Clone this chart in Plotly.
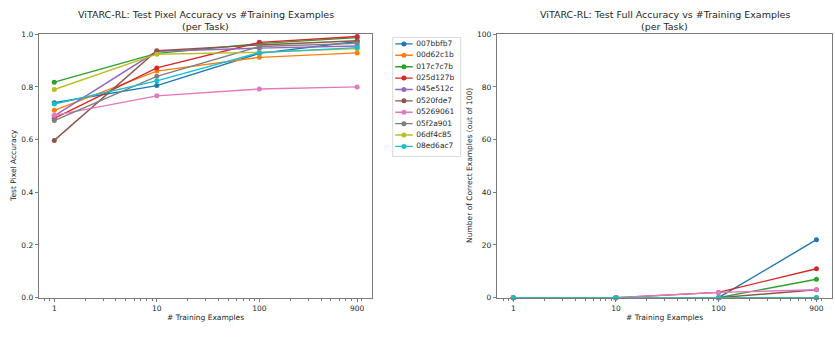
import plotly.graph_objects as go

# ---------------- data ----------------
train_sizes = [1, 10, 100, 900]
tasks = ["007bbfb7", "00d62c1b", "017c7c7b", "025d127b", "045e512c",
         "0520fde7", "05269061", "05f2a901", "06df4c85", "08ed6ac7"]
colors = ["#1f77b4", "#ff7f0e", "#2ca02c", "#d62728", "#9467bd",
          "#8c564b", "#e377c2", "#7f7f7f", "#bcbd22", "#17becf"]

pix_007bbfb7 = [0.740, 0.805, 0.927, 0.972]
pix_00d62c1b = [0.711, 0.860, 0.912, 0.929]
pix_017c7c7b = [0.818, 0.927, 0.964, 0.987]
pix_025d127b = [0.680, 0.872, 0.969, 0.991]
pix_045e512c = [0.690, 0.935, 0.947, 0.955]
pix_0520fde7 = [0.597, 0.937, 0.959, 0.975]
pix_05269061 = [0.692, 0.766, 0.792, 0.800]
pix_05f2a901 = [0.672, 0.840, 0.953, 0.965]
pix_06df4c85 = [0.790, 0.924, 0.931, 0.945]
pix_08ed6ac7 = [0.735, 0.823, 0.930, 0.949]

full_007bbfb7 = [0, 0, 0, 22]
full_00d62c1b = [0, 0, 0, 0]
full_017c7c7b = [0, 0, 0, 7]
full_025d127b = [0, 0, 2, 11]
full_045e512c = [0, 0, 0, 0]
full_0520fde7 = [0, 0, 0, 3]
full_05269061 = [0, 0, 2, 3]
full_05f2a901 = [0, 0, 0, 0]
full_06df4c85 = [0, 0, 0, 0]
full_08ed6ac7 = [0, 0, 0, 0]

pixel_acc = [pix_007bbfb7, pix_00d62c1b, pix_017c7c7b, pix_025d127b, pix_045e512c,
             pix_0520fde7, pix_05269061, pix_05f2a901, pix_06df4c85, pix_08ed6ac7]
full_acc = [full_007bbfb7, full_00d62c1b, full_017c7c7b, full_025d127b, full_045e512c,
            full_0520fde7, full_05269061, full_05f2a901, full_06df4c85, full_08ed6ac7]

x_ticks = [1, 10, 100, 900]
x_tick_labels = ["1", "10", "100", "900"]
left_y_ticks = [0.0, 0.2, 0.4, 0.6, 0.8, 1.0]
right_y_ticks = [0, 20, 40, 60, 80, 100]

# ---------------- layout helpers ----------------
W, H = 835, 339
FONT = "DejaVu Sans"
TXT = "#262626"
SPINE = "#7a7a7a"

def px_x(p):
    return p / W

def px_y(p):
    return 1 - p / H

minor_vals = ([0.8, 0.9] + [i for i in range(2, 10)] + [i * 10 for i in range(2, 10)]
              + [i * 100 for i in range(2, 9)] + [1000])

fig = go.Figure()

for name, col, ys in zip(tasks, colors, pixel_acc):
    fig.add_trace(go.Scatter(x=train_sizes, y=ys, mode="lines+markers", name=name,
                             line=dict(color=col, width=1.4),
                             marker=dict(color=col, size=5),
                             xaxis="x", yaxis="y", showlegend=False, cliponaxis=False))

for name, col, ys in zip(tasks, colors, full_acc):
    fig.add_trace(go.Scatter(x=train_sizes, y=ys, mode="lines+markers", name=name,
                             line=dict(color=col, width=1.4),
                             marker=dict(color=col, size=5),
                             xaxis="x2", yaxis="y2", showlegend=False, cliponaxis=False))

# custom legend drawn on a hidden axis
for i, (name, col) in enumerate(zip(tasks, colors)):
    fig.add_trace(go.Scatter(x=[2.5, 20], y=[i, i], mode="lines",
                             line=dict(color=col, width=1.4),
                             xaxis="x3", yaxis="y3", showlegend=False, hoverinfo="skip"))
    fig.add_trace(go.Scatter(x=[11.2], y=[i], mode="markers",
                             marker=dict(color=col, size=5),
                             xaxis="x3", yaxis="y3", showlegend=False, hoverinfo="skip"))
    fig.add_trace(go.Scatter(x=[23.5], y=[i], mode="text", text=[name],
                             textposition="middle right",
                             textfont=dict(family=FONT, size=7.5, color=TXT),
                             xaxis="x3", yaxis="y3", showlegend=False, hoverinfo="skip"))

common_x = dict(type="log", tickvals=x_ticks, ticktext=x_tick_labels,
                ticks="outside", ticklen=3.5, tickwidth=0.8, tickcolor=SPINE,
                showline=True, linecolor=SPINE, linewidth=1, mirror=True,
                showgrid=False, zeroline=False,
                tickfont=dict(family=FONT, size=7.5, color=TXT),
                minor=dict(tickvals=minor_vals, ticks="outside", ticklen=2,
                           tickwidth=0.6, tickcolor=SPINE, showgrid=False))
common_y = dict(ticks="outside", ticklen=3.5, tickwidth=0.8, tickcolor=SPINE,
                showline=True, linecolor=SPINE, linewidth=1, mirror=True,
                showgrid=False, zeroline=False,
                tickfont=dict(family=FONT, size=7.5, color=TXT))

fig.update_layout(
    width=W, height=H,
    margin=dict(l=0, r=0, t=0, b=0),
    paper_bgcolor="white", plot_bgcolor="white",
    font=dict(family=FONT, size=8, color=TXT),
    xaxis=dict(domain=[px_x(39.3), px_x(372.3)], range=[-0.146, 3.102], anchor="y",
               **common_x),
    yaxis=dict(domain=[px_y(301.7), px_y(31)], range=[0, 1], anchor="x",
               tickvals=left_y_ticks, tickformat=".1f", **common_y),
    xaxis2=dict(domain=[px_x(497.3), px_x(831.7)], range=[-0.156, 3.103], anchor="y2",
                **common_x),
    yaxis2=dict(domain=[px_y(301.7), px_y(31)], range=[0, 100], anchor="x2",
                tickvals=right_y_ticks, **common_y),
    xaxis3=dict(domain=[px_x(392.7), px_x(460.7)], range=[0, 68], visible=False,
                anchor="y3", fixedrange=True),
    yaxis3=dict(domain=[px_y(156.7), px_y(34.3)], range=[9.889, -0.573], visible=False,
                anchor="x3", fixedrange=True),
)

# legend frame
fig.add_shape(type="rect", xref="paper", yref="paper",
              x0=px_x(392.7), x1=px_x(460.7), y0=px_y(156.7), y1=px_y(34.3),
              line=dict(color="#d0d0d0", width=0.8), fillcolor="rgba(255,255,255,0)",
              layer="below")

def ann(text, x, y, size=8, angle=0):
    fig.add_annotation(text=text, xref="paper", yref="paper", x=x, y=y,
                       xanchor="center", yanchor="middle", showarrow=False,
                       textangle=angle, font=dict(family=FONT, size=size, color=TXT))

# titles
ann("ViTARC-RL: Test Pixel Accuracy vs #Training Examples", px_x(205.8), px_y(11), size=9.5)
ann("(per Task)", px_x(205.8), px_y(23.3), size=9.5)
ann("ViTARC-RL: Test Full Accuracy vs #Training Examples", px_x(664.5), px_y(11), size=9.5)
ann("(per Task)", px_x(664.5), px_y(23.3), size=9.5)

# axis labels
ann("# Training Examples", px_x(205.8), px_y(321.7), size=7.5)
ann("# Training Examples", px_x(664.5), px_y(321.7), size=7.5)
ann("Test Pixel Accuracy", px_x(14), px_y(166.3), size=7.5, angle=-90)
ann("Number of Correct Examples (out of 100)", px_x(470), px_y(166.3), size=7.5, angle=-90)

fig.write_html("out.html")
